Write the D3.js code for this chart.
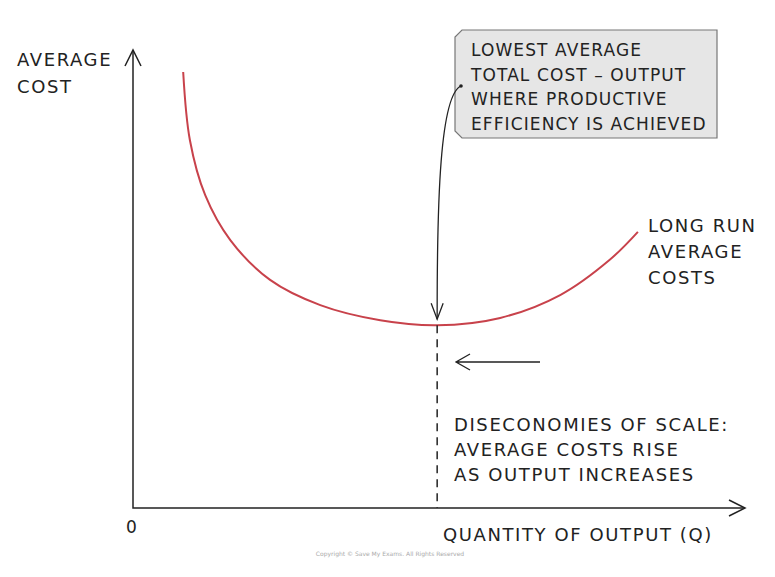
<!DOCTYPE html>
<html><head><meta charset="utf-8">
<script src="https://cdn.jsdelivr.net/npm/d3@7"></script>
<style>body{margin:0;background:#fff}text{font-family:"DejaVu Sans",sans-serif;fill:#222;letter-spacing:1.6px}</style>
</head><body>
<script>
// long run average cost curve
var quantity = [0.82, 0.93, 1.18, 1.59, 2.24, 3.06, 4.04, 4.97, 6.00, 6.98, 7.79, 8.25];
var avgCost  = [9.52, 8.03, 6.83, 5.85, 4.98, 4.43, 4.10, 3.99, 4.15, 4.65, 5.42, 6.03];
var minQ = 4.97, minC = 3.99;
var boxLines = ["LOWEST AVERAGE", "TOTAL COST \u2013 OUTPUT", "WHERE PRODUCTIVE", "EFFICIENCY IS ACHIEVED"];
var curveLabel = ["LONG RUN", "AVERAGE", "COSTS"];
var diseconLines = ["DISECONOMIES OF SCALE:", "AVERAGE COSTS RISE", "AS OUTPUT INCREASES"];

var width = 775, height = 577;
var x = d3.scaleLinear().domain([0, 10]).range([133, 745]);
var y = d3.scaleLinear().domain([0, 10]).range([508, 50]);

var svg = d3.select("body").append("svg").attr("width", width).attr("height", height);
var ink = "#222";

// axes
svg.append("path").attr("d", "M" + x(0) + "," + y(10) + "V" + y(0) + "H" + x(10))
    .attr("fill", "none").attr("stroke", ink).attr("stroke-width", 1.5);
svg.append("path").attr("d", "M" + (x(0) - 8) + "," + (y(10) + 16) + "L" + x(0) + "," + y(10) + "L" + (x(0) + 8) + "," + (y(10) + 16))
    .attr("fill", "none").attr("stroke", ink).attr("stroke-width", 1.5);
svg.append("path").attr("d", "M" + (x(10) - 16) + "," + (y(0) - 8) + "L" + x(10) + "," + y(0) + "L" + (x(10) - 16) + "," + (y(0) + 8))
    .attr("fill", "none").attr("stroke", ink).attr("stroke-width", 1.5);

svg.append("text").attr("x", 17).attr("y", 66).attr("font-size", 18).text("AVERAGE");
svg.append("text").attr("x", 17).attr("y", 93).attr("font-size", 18).text("COST");
svg.append("text").attr("x", 126).attr("y", 533).attr("font-size", 17).text("0");
svg.append("text").attr("x", 443).attr("y", 541).attr("font-size", 18).text("QUANTITY OF OUTPUT (Q)");
svg.append("text").attr("x", 390).attr("y", 556).attr("font-size", 6).attr("text-anchor", "middle")
    .style("fill", "#aaa").style("letter-spacing", "0").text("Copyright \u00a9 Save My Exams. All Rights Reserved");

// curve
var pts = quantity.map(function(q, i){ return [x(q), y(avgCost[i])]; });
svg.append("path").attr("d", d3.line().curve(d3.curveCatmullRom)(pts))
    .attr("fill", "none").attr("stroke", "#c8424b").attr("stroke-width", 2);

// dashed drop line
svg.append("line").attr("x1", x(minQ)).attr("x2", x(minQ)).attr("y1", y(minC)).attr("y2", y(0))
    .attr("stroke", ink).attr("stroke-width", 1.5).attr("stroke-dasharray", "8,6");

// annotation box
var bx = 455, by = 30, bw = 262, bh = 108, c = 7;
svg.append("path").attr("d", "M" + (bx + c) + "," + by + "H" + (bx + bw) + "V" + (by + bh) + "H" + (bx + c) + "L" + bx + "," + (by + bh - c) + "V" + (by + c) + "Z")
    .attr("fill", "#e6e6e6").attr("stroke", "#777").attr("stroke-width", 1.2);
boxLines.forEach(function(t, i){
    svg.append("text").attr("x", 471).attr("y", 56 + i * 24.5).attr("font-size", 17).style("letter-spacing", "1.1px").text(t);
});

// pointer arrow from box to the minimum
var tipY = y(minC) - 6;
svg.append("path").attr("d", "M461,86 C440,95 437,200 " + x(minQ) + "," + tipY)
    .attr("fill", "none").attr("stroke", ink).attr("stroke-width", 1.3);
svg.append("circle").attr("cx", 461).attr("cy", 86).attr("r", 1.8).attr("fill", ink);
svg.append("path").attr("d", "M" + (x(minQ) - 6) + "," + (tipY - 16) + "L" + x(minQ) + "," + tipY + "L" + (x(minQ) + 6) + "," + (tipY - 16))
    .attr("fill", "none").attr("stroke", ink).attr("stroke-width", 1.3);

curveLabel.forEach(function(t, i){
    svg.append("text").attr("x", 648).attr("y", 232 + i * 26).attr("font-size", 18).text(t);
});

// left arrow
svg.append("path").attr("d", "M540,362H456M470,354L456,362L470,370")
    .attr("fill", "none").attr("stroke", ink).attr("stroke-width", 1.3);

diseconLines.forEach(function(t, i){
    svg.append("text").attr("x", 454).attr("y", 431 + i * 25).attr("font-size", 18).text(t);
});
</script>
</body></html>
